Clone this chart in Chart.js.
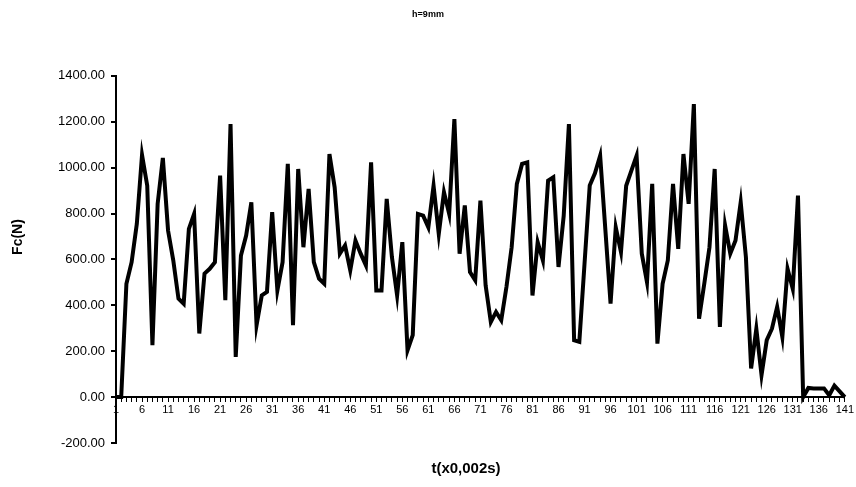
<!DOCTYPE html>
<html>
<head>
<meta charset="utf-8">
<script src="https://cdn.jsdelivr.net/npm/chart.js@4.4.1/dist/chart.umd.min.js"></script>
<style>
  html, body { margin: 0; padding: 0; background: #fff; }
  #wrap { width: 856px; height: 487px; }
</style>
</head>
<body>
<div id="wrap"><canvas id="c" width="856" height="487"></canvas></div>
<script>
// Cutting force samples, one every 0.002 s
const sampleIndex = Array.from({ length: 141 }, (_, i) => String(i + 1));
const forceN = [
  0, 0, 494, 588, 755, 1055, 921, 226, 842, 1042,
  726, 596, 429, 407, 733, 798, 277, 538, 559, 588,
  965, 422, 1190, 175, 617, 704, 849, 313, 443, 458,
  806, 465, 588, 1016, 313, 994, 653, 907, 588, 516,
  494, 1059, 914, 625, 661, 552, 682, 625, 574, 1023,
  465, 465, 864, 610, 443, 675, 204, 270, 798, 791,
  740, 921, 711, 893, 798, 1211, 625, 835, 545, 509,
  856, 487, 327, 371, 335, 480, 653, 929, 1016, 1023,
  443, 675, 596, 943, 958, 567, 790, 1190, 248, 241,
  582, 922, 975, 1052, 730, 407, 740, 632, 921, 987,
  1052, 625, 501, 929, 233, 494, 596, 929, 646, 1059,
  842, 1277, 342, 494, 653, 994, 306, 748, 625, 682,
  849, 610, 125, 298, 96, 248, 298, 393, 262, 559,
  472, 878, 0, 40, 38, 38, 38, 8, 50, 25,
  0
];
const yTicks = [-200, 0, 200, 400, 600, 800, 1000, 1200, 1400];
const xTitleText = 't(x0,002s)';
const yTitleText = 'Fc(N)';

const FONT = "'Liberation Sans', Arial, sans-serif";

// Axis titles, placed like the spreadsheet layout (not centred on the plot)
const axisTitles = {
  id: 'axisTitles',
  afterDraw(chart) {
    const ctx = chart.ctx;
    ctx.save();
    ctx.fillStyle = '#000';
    ctx.textAlign = 'center';
    ctx.textBaseline = 'middle';
    ctx.font = `bold 15px ${FONT}`;
    ctx.fillText(xTitleText, 466, 469);
    ctx.translate(18, 237);
    ctx.rotate(-Math.PI / 2);
    ctx.font = `bold 14px ${FONT}`;
    ctx.fillText(yTitleText, 0, 0);
    ctx.restore();
  }
};

new Chart(document.getElementById('c'), {
  type: 'line',
  data: {
    labels: sampleIndex,
    datasets: [{
      data: forceN,
      borderColor: '#000',
      borderWidth: 4,
      pointRadius: 0,
      tension: 0,
      fill: false
    }]
  },
  options: {
    responsive: false,
    animation: false,
    layout: { padding: { left: 11, right: 11, top: 0, bottom: 44 } },
    plugins: {
      legend: { display: false },
      tooltip: { enabled: false },
      title: {
        display: true,
        text: 'h=9mm',
        color: '#000',
        font: { family: FONT, size: 9, weight: 'bold' },
        padding: { top: 9, bottom: 56 }
      }
    },
    scales: {
      x: {
        type: 'category',
        position: { y: 0 },
        offset: false,
        border: { display: true, color: '#000', width: 2 },
        grid: { display: true, drawOnChartArea: false, drawTicks: true, tickLength: 4, color: '#000', lineWidth: 1 },
        ticks: {
          autoSkip: false,
          maxRotation: 0,
          minRotation: 0,
          padding: 2,
          color: '#000',
          font: { family: FONT, size: 11 },
          callback: function (v, i) { return i % 5 === 0 ? this.getLabelForValue(v) : ''; }
        }
      },
      y: {
        min: yTicks[0],
        max: yTicks[yTicks.length - 1],
        afterBuildTicks: (scale) => { scale.ticks = yTicks.map(v => ({ value: v })); },
        afterFit: (scale) => { scale.width = 105; },
        border: { display: true, color: '#000', width: 2 },
        grid: { display: true, drawOnChartArea: false, drawTicks: true, tickLength: 5, color: '#000', lineWidth: 2 },
        ticks: {
          color: '#000',
          padding: 6,
          font: { family: FONT, size: 13 },
          callback: (v) => Number(v).toFixed(2)
        }
      }
    }
  },
  plugins: [axisTitles]
});
</script>
</body>
</html>
